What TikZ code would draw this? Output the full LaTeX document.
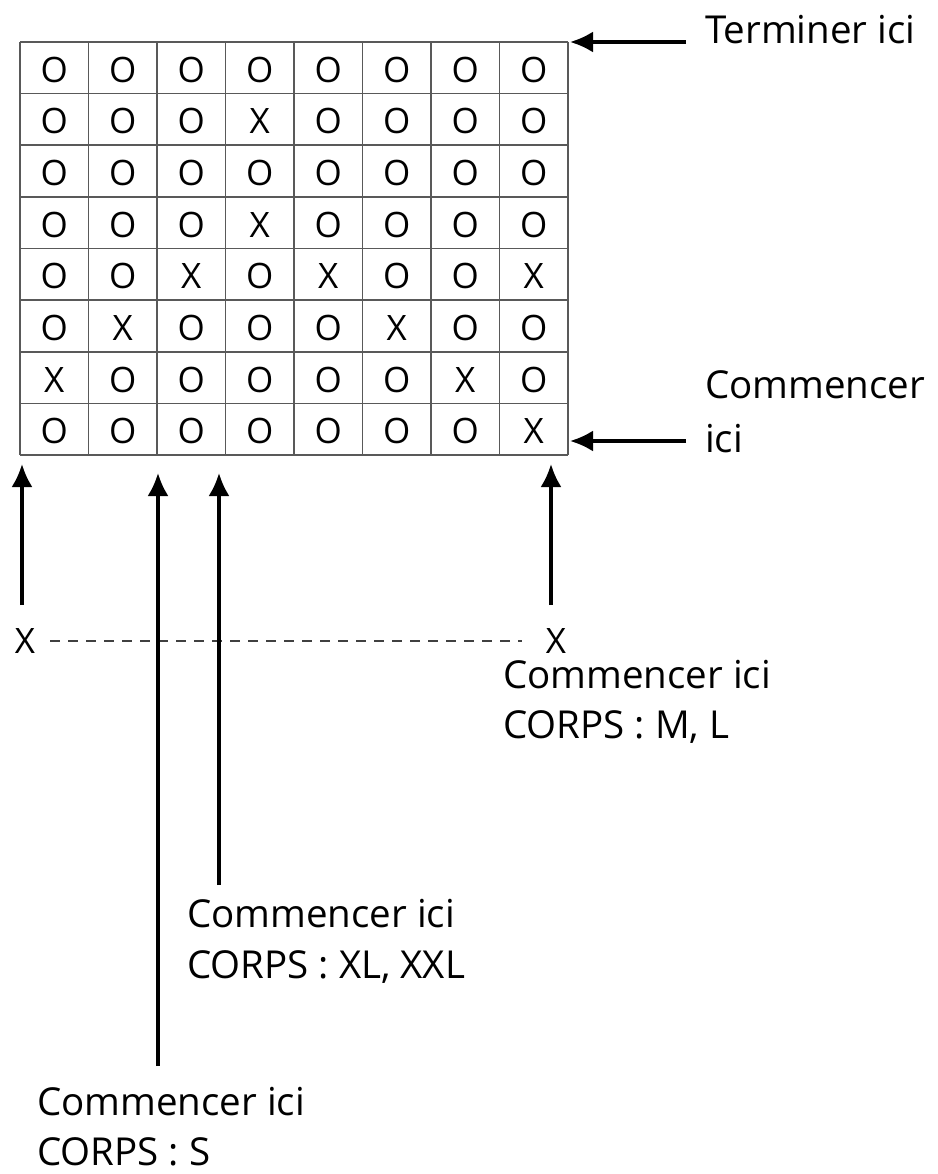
\documentclass[tikz,border=0pt]{standalone}
\usepackage{fontspec}
\setmainfont{Open Sans}
\usetikzlibrary{arrows.meta}
\begin{document}
\begin{tikzpicture}[x=1pt,y=-1pt,
  lbl/.style={anchor=base west,inner sep=0pt,font=\fontsize{38.5}{46}\selectfont},
  cellmark/.style={anchor=base,inner sep=0pt,font=\fontsize{35}{42}\selectfont},
  arr/.style={line width=3.2pt,-{Latex[length=23pt,width=21pt]}},
  gridline/.style={draw=black!65,line width=1.7pt},
  dashline/.style={draw=black!75,line width=2.4pt,dash pattern=on 10pt off 8pt}]
\useasboundingbox (0,0) rectangle (937,1174);
% grid lines
\foreach \i in {0,...,8}{
  \draw[gridline] ({20+68.5*\i},42) -- ({20+68.5*\i},455);
  \draw[gridline] (20,{42+51.625*\i}) -- (568,{42+51.625*\i});
}
% cells
\foreach \row [count=\r from 0] in {
  {O,O,O,O,O,O,O,O},
  {O,O,O,X,O,O,O,O},
  {O,O,O,O,O,O,O,O},
  {O,O,O,X,O,O,O,O},
  {O,O,X,O,X,O,O,X},
  {O,X,O,O,O,X,O,O},
  {X,O,O,O,O,O,X,O},
  {O,O,O,O,O,O,O,X}}{
  \foreach \m [count=\c from 0] in \row{
    \node[cellmark] (c-\r-\c) at ({20+68.5*(\c+0.5)},{42+51.625*(\r+0.5)+14.5}) {\m};
  }
}
% grid corners
\coordinate (gNE) at (570,42);
\coordinate (gSE) at (570,441);
% right labels
\node[lbl] (term) at (705,44) {Terminer ici};
\node[lbl] (comm) at (705,398) {Commencer};
\node[lbl] (commici) at (705,452) {ici};
\coordinate (tT) at (686,42);
\coordinate (tC) at (686,441);
\draw[arr] (tT) -- (gNE);
\draw[arr] (tC) -- (gSE);
% X markers and dashed line
\node[cellmark,anchor=center] (xL) at (25,641) {X};
\node[cellmark,anchor=center] (xR) at (556,641) {X};
\coordinate (dL) at (50,641);
\coordinate (dR) at (522,641);
\draw[dashline] (dL) -- (dR);
% vertical arrows
\coordinate (a1s) at (22,605);  \coordinate (a1e) at (22,464);
\coordinate (a2s) at (158,1066); \coordinate (a2e) at (158,473);
\coordinate (a3s) at (219,885); \coordinate (a3e) at (219,473);
\coordinate (a4s) at (551,605); \coordinate (a4e) at (551,464);
\draw[arr] (a1s) -- (a1e);
\draw[arr] (a2s) -- (a2e);
\draw[arr] (a3s) -- (a3e);
\draw[arr] (a4s) -- (a4e);
% bottom labels
\node[lbl] (mlA) at (503,688) {Commencer ici};
\node[lbl] (mlB) at (503,738) {CORPS : M, L};
\node[lbl] (xlA) at (187,927) {Commencer ici};
\node[lbl] (xlB) at (187,978) {CORPS : XL, XXL};
\node[lbl] (sA) at (37,1115) {Commencer ici};
\node[lbl] (sB) at (37,1165) {CORPS : S};
\end{tikzpicture}
\end{document}
